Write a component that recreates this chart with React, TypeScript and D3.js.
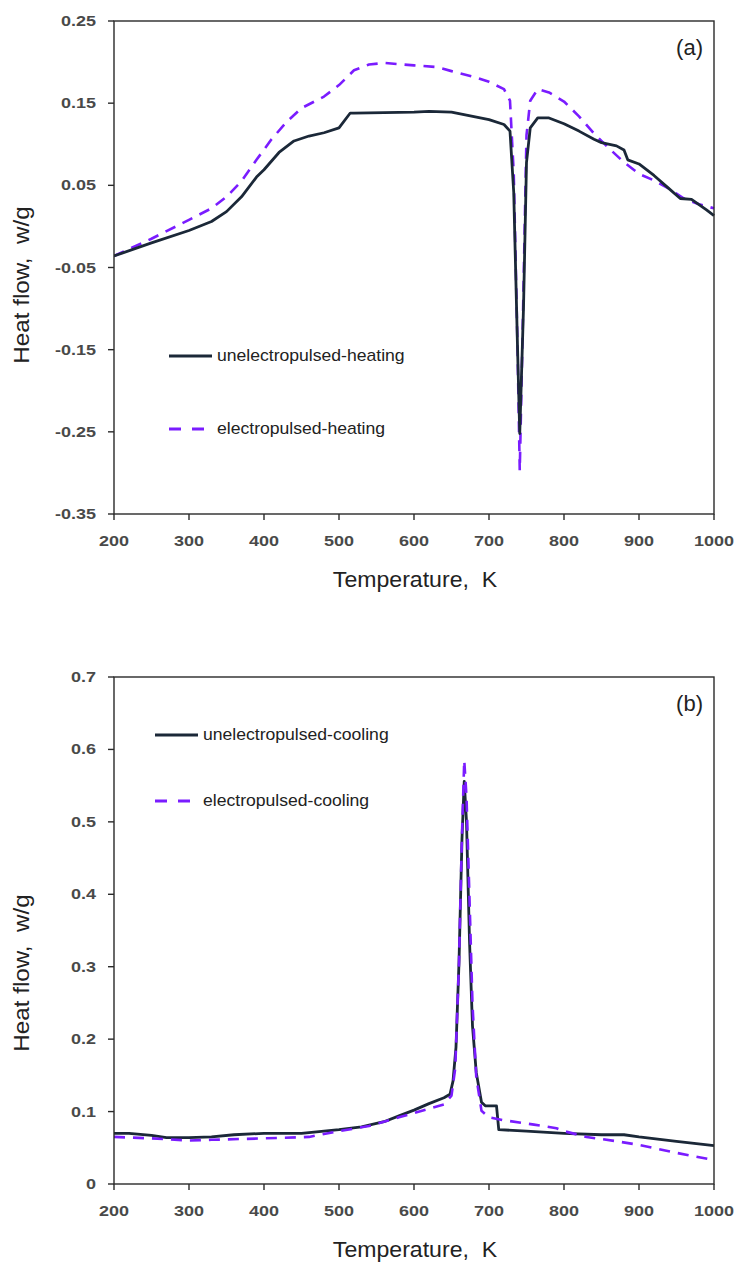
import { useEffect, useRef } from 'react';
import * as d3 from 'd3';

const W = 736;
const H = 1264;

// panel (a) heating
const heatT = [200, 250, 300, 330, 350, 370, 390, 400, 420, 440, 460, 480, 500, 515, 520, 600, 620, 650, 700, 720, 728, 733, 738, 741, 746, 750, 755, 765, 780, 800, 820, 840, 850, 870, 880, 885, 900, 920, 940, 955, 970, 990, 1000];
const unelHeat = [-0.036, -0.020, -0.005, 0.006, 0.018, 0.036, 0.060, 0.069, 0.090, 0.104, 0.110, 0.114, 0.120, 0.138, 0.138, 0.139, 0.140, 0.139, 0.130, 0.124, 0.116, 0.041, -0.146, -0.252, -0.099, 0.078, 0.120, 0.132, 0.132, 0.125, 0.116, 0.106, 0.102, 0.098, 0.093, 0.081, 0.076, 0.062, 0.046, 0.034, 0.033, 0.020, 0.013];

const heatT2 = [200, 250, 300, 330, 350, 370, 390, 410, 430, 450, 480, 500, 520, 540, 560, 600, 630, 650, 680, 700, 720, 728, 733, 738, 741, 745, 750, 755, 765, 780, 800, 820, 840, 860, 880, 900, 920, 940, 960, 980, 1000];
const elHeat = [-0.036, -0.015, 0.008, 0.022, 0.036, 0.055, 0.081, 0.106, 0.127, 0.144, 0.158, 0.172, 0.190, 0.197, 0.199, 0.196, 0.194, 0.189, 0.182, 0.176, 0.167, 0.153, 0.064, -0.146, -0.297, -0.122, 0.111, 0.153, 0.167, 0.163, 0.152, 0.134, 0.113, 0.095, 0.078, 0.064, 0.056, 0.046, 0.034, 0.027, 0.022];

// panel (b) cooling
const coolT = [200, 220, 250, 270, 300, 330, 360, 400, 450, 470, 500, 530, 560, 580, 600, 620, 640, 648, 652, 656, 660, 664, 667, 670, 674, 678, 683, 690, 695, 710, 713, 750, 800, 850, 880, 900, 950, 1000];
const unelCool = [0.070, 0.070, 0.067, 0.064, 0.064, 0.065, 0.068, 0.070, 0.070, 0.072, 0.075, 0.079, 0.086, 0.094, 0.102, 0.111, 0.119, 0.124, 0.142, 0.189, 0.306, 0.477, 0.556, 0.500, 0.336, 0.218, 0.154, 0.113, 0.108, 0.108, 0.075, 0.073, 0.070, 0.068, 0.068, 0.065, 0.059, 0.053];

const coolT2 = [200, 250, 300, 330, 400, 460, 500, 540, 580, 600, 640, 650, 655, 660, 664, 667, 670, 674, 678, 683, 690, 700, 720, 760, 790, 800, 830, 870, 900, 950, 1000];
const elCool = [0.065, 0.063, 0.060, 0.061, 0.063, 0.065, 0.073, 0.080, 0.092, 0.098, 0.110, 0.122, 0.160, 0.306, 0.483, 0.585, 0.535, 0.394, 0.248, 0.148, 0.101, 0.092, 0.088, 0.082, 0.077, 0.073, 0.065, 0.059, 0.054, 0.043, 0.033];

const xTicks = [200, 300, 400, 500, 600, 700, 800, 900, 1000];
const yTicksA = [0.25, 0.15, 0.05, -0.05, -0.15, -0.25, -0.35];
const yTicksB = [0, 0.1, 0.2, 0.3, 0.4, 0.5, 0.6, 0.7];

const SOLID = '#1b2838';
const DASH = '#7a1cff';
const AXIS = '#2a2a2a';
const FONT = '"Liberation Sans", Arial, sans-serif';

// text that is a bit wider than the font, like the stretched original
function label(g, txt, x, y, opts) {
  const { size = 15, sx = 1, anchor = 'start', weight = 'normal', rotate = 0, opacity = 1 } = opts || {};
  g.append('text')
    .attr('transform', `translate(${x},${y}) rotate(${rotate}) scale(${sx},1)`)
    .attr('text-anchor', anchor)
    .attr('fill', '#222')
    .attr('opacity', opacity)
    .style('font-family', FONT)
    .style('font-size', size + 'px')
    .style('font-weight', weight)
    .style('white-space', 'pre')
    .text(txt);
}

function drawPanel(svg, cfg) {
  const { top, bottom, yDomain, yTicks, yFmt, series, legend, tag, yTitleY } = cfg;
  const left = 114;
  const right = 714;
  const x = d3.scaleLinear().domain([200, 1000]).range([left, right]);
  const y = d3.scaleLinear().domain(yDomain).range([bottom, top]);

  const g = svg.append('g');

  const clipId = 'clip' + tag;
  g.append('clipPath').attr('id', clipId)
    .append('rect').attr('x', left).attr('y', top - 2).attr('width', right - left + 2).attr('height', bottom - top + 4);

  const line = d3.line().x(d => x(d[0])).y(d => y(d[1]));

  series.forEach(s => {
    g.append('path')
      .datum(s.xs.map((t, i) => [t, s.ys[i]]))
      .attr('d', line)
      .attr('fill', 'none')
      .attr('stroke', s.color)
      .attr('stroke-width', s.dash ? 2.6 : 2.8)
      .attr('stroke-dasharray', s.dash ? '11,8' : null)
      .attr('stroke-linejoin', 'round')
      .attr('clip-path', `url(#${clipId})`);
  });

  // frame
  g.append('rect')
    .attr('x', left).attr('y', top)
    .attr('width', right - left).attr('height', bottom - top)
    .attr('fill', 'none').attr('stroke', AXIS).attr('stroke-width', 1.4);

  xTicks.forEach(t => {
    g.append('line')
      .attr('x1', x(t)).attr('x2', x(t))
      .attr('y1', bottom).attr('y2', bottom + 6)
      .attr('stroke', AXIS).attr('stroke-width', 1.4);
    label(g, String(t), x(t), bottom + 32, { size: 15, sx: 1.2, anchor: 'middle', weight: 'bold', opacity: 0.82 });
  });

  yTicks.forEach(t => {
    g.append('line')
      .attr('x1', left - 6).attr('x2', left)
      .attr('y1', y(t)).attr('y2', y(t))
      .attr('stroke', AXIS).attr('stroke-width', 1.4);
    label(g, yFmt(t), 96, y(t) + 5, { size: 15, sx: 1.2, anchor: 'end', weight: 'bold', opacity: 0.82 });
  });

  label(g, 'Temperature,  K', 415, bottom + 73, { size: 22, sx: 1.05, anchor: 'middle' });
  label(g, 'Heat flow,  w/g', 29, yTitleY, { size: 22, sx: 1.1, anchor: 'middle', rotate: -90 });
  label(g, `(${tag})`, 703, top + 34, { size: 22, anchor: 'end' });

  legend.forEach(l => {
    g.append('line')
      .attr('x1', l.x).attr('x2', l.x + 43)
      .attr('y1', l.y).attr('y2', l.y)
      .attr('stroke', l.color).attr('stroke-width', 2.8)
      .attr('stroke-dasharray', l.dash ? '12,11' : null);
    label(g, l.label, l.x + 48, l.y + 5, { size: 16, sx: 1.1 });
  });
}

export default function App() {
  const ref = useRef(null);

  useEffect(() => {
    const svg = d3.select(ref.current);
    svg.selectAll('*').remove();
    svg.append('rect').attr('width', W).attr('height', H).attr('fill', '#fff');

    drawPanel(svg, {
      top: 21,
      bottom: 514,
      yDomain: [-0.35, 0.25],
      yTicks: yTicksA,
      yFmt: d => d.toFixed(2),
      yTitleY: 285,
      tag: 'a',
      series: [
        { xs: heatT2, ys: elHeat, color: DASH, dash: true },
        { xs: heatT, ys: unelHeat, color: SOLID, dash: false },
      ],
      legend: [
        { x: 169, y: 356, color: SOLID, dash: false, label: 'unelectropulsed-heating' },
        { x: 169, y: 429, color: DASH, dash: true, label: 'electropulsed-heating' },
      ],
    });

    drawPanel(svg, {
      top: 677,
      bottom: 1184,
      yDomain: [0, 0.7],
      yTicks: yTicksB,
      yFmt: d => (d === 0 ? '0' : d.toFixed(1)),
      yTitleY: 973,
      tag: 'b',
      series: [
        { xs: coolT, ys: unelCool, color: SOLID, dash: false },
        { xs: coolT2, ys: elCool, color: DASH, dash: true },
      ],
      legend: [
        { x: 155, y: 735, color: SOLID, dash: false, label: 'unelectropulsed-cooling' },
        { x: 155, y: 801, color: DASH, dash: true, label: 'electropulsed-cooling' },
      ],
    });
  }, []);

  return (
    <svg
      ref={ref}
      width={W}
      height={H}
      style={{ position: 'absolute', left: 0, top: 0, display: 'block' }}
    />
  );
}
